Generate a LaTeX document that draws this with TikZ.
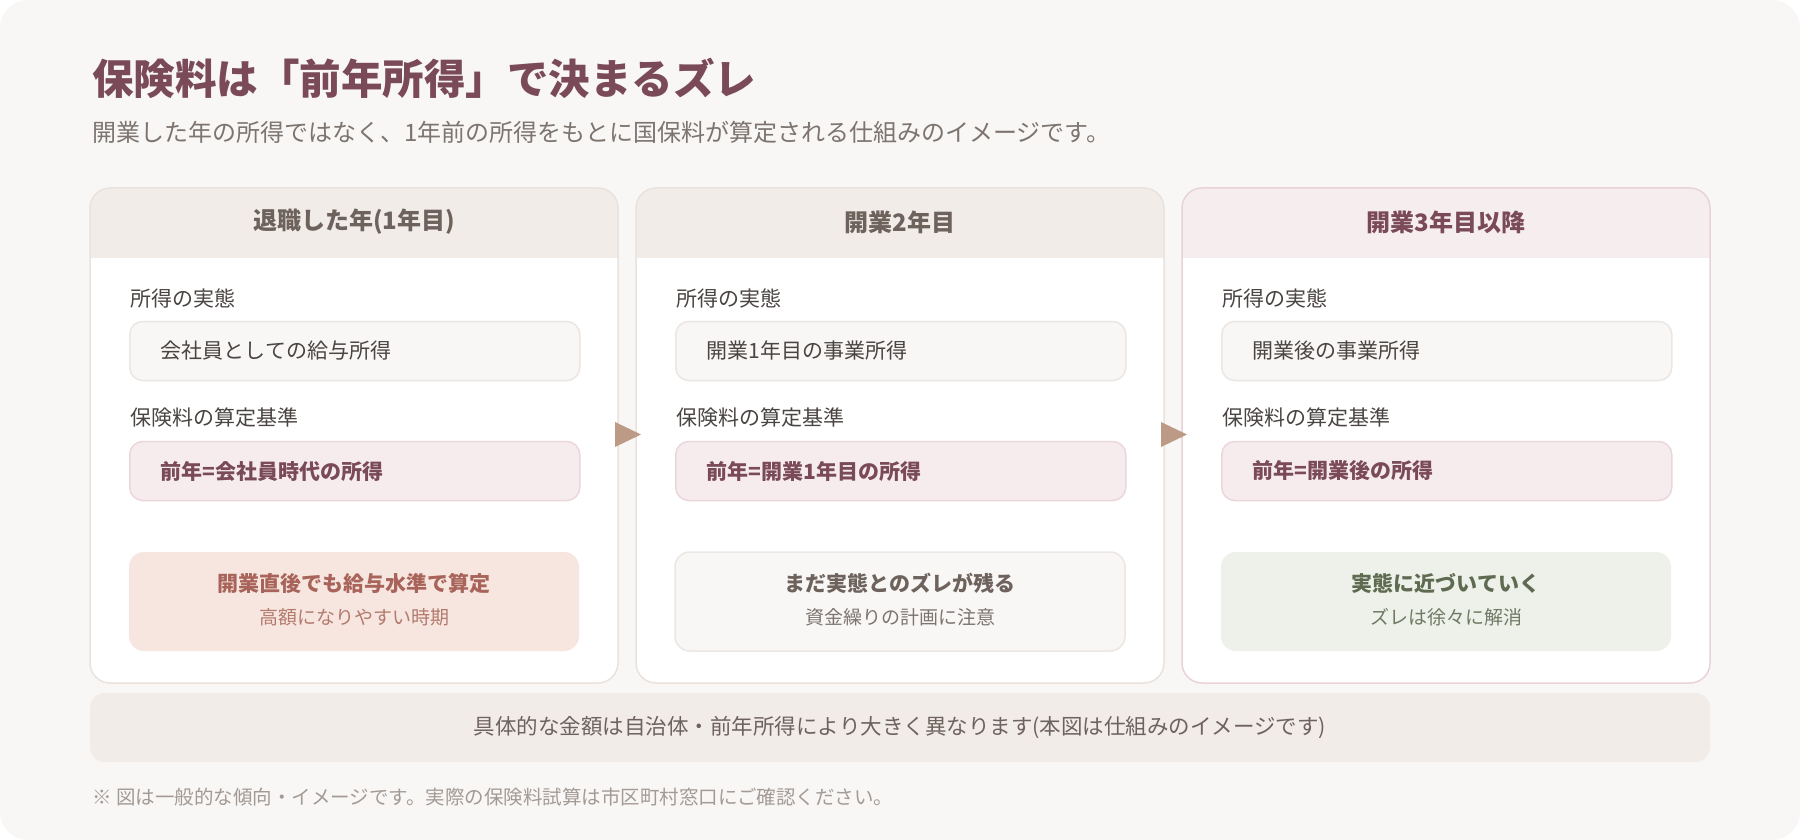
\documentclass[tikz,border=0pt]{standalone}
\usepackage{fontspec}
\setmainfont{Noto Sans CJK JP}
\newcommand{\pxsize}[1]{\fontsize{#1}{#1}\selectfont}

\definecolor{paper}{HTML}{F8F7F5}
\definecolor{plum}{HTML}{7A4A58}
\definecolor{greyink}{HTML}{7D7470}
\definecolor{darkink}{HTML}{4A4442}
\definecolor{brownink}{HTML}{6E625C}
\definecolor{headA}{HTML}{F1ECE8}
\definecolor{headB}{HTML}{F6EDEF}
\definecolor{lineA}{HTML}{EAE2DD}
\definecolor{lineB}{HTML}{E8D3DA}
\definecolor{boxline}{HTML}{ECE6E2}
\definecolor{pinkfill}{HTML}{F6ECEE}
\definecolor{pinkline}{HTML}{EBD6DC}
\definecolor{peach}{HTML}{F7E6DF}
\definecolor{rust}{HTML}{A8645A}
\definecolor{rustlight}{HTML}{B37A6E}
\definecolor{sage}{HTML}{EEF0EA}
\definecolor{moss}{HTML}{5F6B50}
\definecolor{mosslight}{HTML}{6F7A64}
\definecolor{footink}{HTML}{A39A95}
\definecolor{tricol}{HTML}{BC9A86}

\begin{document}
\begin{tikzpicture}[x=1pt,y=-1pt,
  panel/.style={minimum width=528pt,minimum height=495pt,rounded corners=20pt,line width=1.5pt},
  head/.style={inner sep=0pt,font=\bfseries\pxsize{24}},
  lab/.style={anchor=west,inner sep=0pt,text=darkink,font=\pxsize{21}},
  realbox/.style={anchor=west,minimum width=450pt,minimum height=59pt,text width=388pt,inner xsep=31pt,inner ysep=0pt,align=left,rounded corners=13pt,fill=paper,draw=boxline,line width=1.5pt,text=darkink,font=\pxsize{21}},
  basebox/.style={realbox,fill=pinkfill,draw=pinkline,text=plum,font=\bfseries\pxsize{21}},
  callout/.style={minimum width=450pt,minimum height=99pt,rounded corners=15pt,line width=1.5pt},
  callmain/.style={inner sep=0pt,font=\bfseries\pxsize{21}},
  callsub/.style={inner sep=0pt,font=\pxsize{19}},
  tri/.style={fill=tricol}]
\useasboundingbox (0,0) rectangle (1800,840);
\fill[white] (0,0) rectangle (1800,840);
\fill[paper,rounded corners=28pt] (0,0) rectangle (1800,840);

\node[anchor=west,inner sep=0pt,text=plum,font=\bfseries\pxsize{41.5}] (title) at (92,78) {保険料は「前年所得」で決まるズレ};
\node[anchor=west,inner sep=0pt,text=greyink,font=\pxsize{24}] (sub) at (92,132) {開業した年の所得ではなく、1年前の所得をもとに国保料が算定される仕組みのイメージです。};

\foreach \i/\px/\hf/\bd/\hc/\ttl in {1/90/headA/lineA/brownink/{退職した年(1年目)},2/636/headA/lineA/brownink/{開業2年目},3/1182/headB/lineB/plum/{開業3年目以降}}{
  \fill[white,rounded corners=20pt] (\px,188) rectangle ++(528,495);
  \begin{scope}
    \clip[rounded corners=20pt] (\px,188) rectangle ++(528,495);
    \fill[\hf] (\px,188) rectangle ++(528,70);
  \end{scope}
  \node[panel,draw=\bd] (pan\i) at (\px+264,435.5) {};
  \node[head,text=\hc] (head\i) at (\px+264,222) {\ttl};
  \node[lab] (lreal\i) at (\px+40,298) {所得の実態};
  \node[lab] (lbase\i) at (\px+40,418) {保険料の算定基準};
}

\node[realbox] (real1) at (129,351) {会社員としての給与所得};
\node[realbox] (real2) at (675,351) {開業1年目の事業所得};
\node[realbox] (real3) at (1221,351) {開業後の事業所得};

\node[basebox] (base1) at (129,471) {前年=会社員時代の所得};
\node[basebox] (base2) at (675,471) {前年=開業1年目の所得};
\node[basebox] (base3) at (1221,471) {前年=開業後の所得};

\node[callout,fill=peach] (call1) at (354,601.5) {};
\node[callmain,text=rust] (cm1) at (354,583) {開業直後でも給与水準で算定};
\node[callsub,text=rustlight] (cs1) at (354,617) {高額になりやすい時期};

\node[callout,fill=paper,draw=boxline] (call2) at (900,601.5) {};
\node[callmain,text=brownink] (cm2) at (900,583) {まだ実態とのズレが残る};
\node[callsub,text=greyink] (cs2) at (900,617) {資金繰りの計画に注意};

\node[callout,fill=sage] (call3) at (1446,601.5) {};
\node[callmain,text=moss] (cm3) at (1446,583) {実態に近づいていく};
\node[callsub,text=mosslight] (cs3) at (1446,617) {ズレは徐々に解消};

\coordinate (tip1) at (641,434.5);
\coordinate (tip2) at (1187,434.5);
\fill[tri] (tip1) -- ++(-26,-12.5) -- ++(0,25) -- cycle;
\fill[tri] (tip2) -- ++(-26,-12.5) -- ++(0,25) -- cycle;

\node[fill=headA,rounded corners=15pt,minimum width=1620pt,minimum height=69pt,text=brownink,font=\pxsize{21.5}] (band) at (900,727.5) {具体的な金額は自治体・前年所得により大きく異なります(本図は仕組みのイメージです)};
\node[anchor=west,inner sep=0pt,text=footink,font=\pxsize{19.5}] (foot) at (92,797) {※ 図は一般的な傾向・イメージです。実際の保険料試算は市区町村窓口にご確認ください。};
\end{tikzpicture}
\end{document}
